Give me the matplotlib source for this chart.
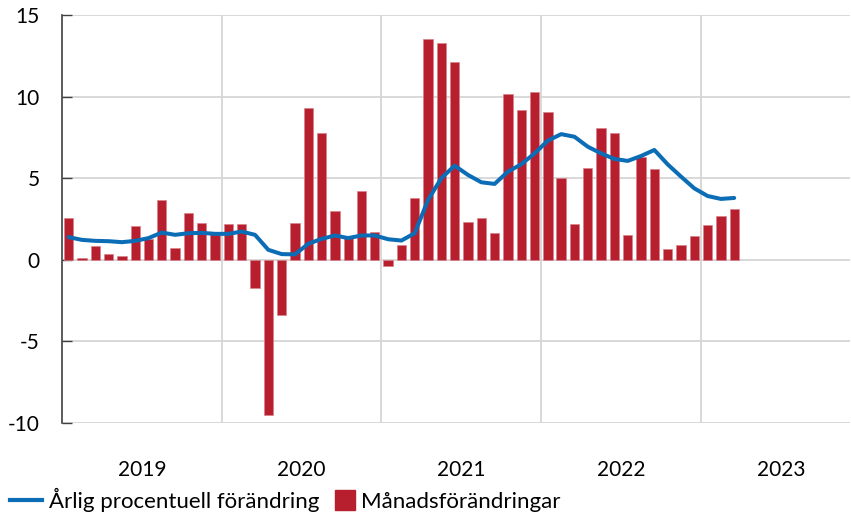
import matplotlib
matplotlib.use("Agg")
import matplotlib.pyplot as plt
import numpy as np
from matplotlib.lines import Line2D
from matplotlib.patches import Patch, Rectangle
from matplotlib.legend_handler import HandlerPatch

plt.rcParams['font.family'] = ['Lato', 'DejaVu Sans']

years = ["2019", "2020", "2021", "2022", "2023"]

# Monthly change (bars), Jan 2019 - Mar 2023
monthly = [2.55, 0.10, 0.84, 0.37, 0.22, 2.08, 1.28, 3.65, 0.75, 2.87, 2.24, 1.71,
           2.22, 2.22, -1.73, -9.50, -3.40, 2.24, 9.28, 7.75, 2.96, 1.35, 4.22, 1.71,
           -0.35, 0.92, 3.79, 13.56, 13.31, 12.09, 2.32, 2.57, 1.63, 10.15, 9.17, 10.27,
           9.05, 5.04, 2.18, 5.63, 8.05, 7.79, 1.51, 6.30, 5.59, 0.67, 0.88, 1.43,
           2.12, 2.69, 3.10]

# Annual percentage change (line)
annual = [1.39, 1.22, 1.16, 1.14, 1.08, 1.16, 1.33, 1.67, 1.53, 1.63, 1.65, 1.59,
          1.59, 1.73, 1.53, 0.61, 0.35, 0.33, 0.98, 1.28, 1.49, 1.33, 1.49, 1.49,
          1.26, 1.18, 1.63, 3.67, 5.00, 5.77, 5.20, 4.75, 4.65, 5.40, 5.85, 6.52,
          7.30, 7.70, 7.54, 6.93, 6.52, 6.18, 6.06, 6.36, 6.73, 5.85, 5.10, 4.38,
          3.91, 3.73, 3.79]

legend_labels = ["Årlig procentuell förändring", "Månadsförändringar"]

bar_color = "#B81F2E"
line_color = "#0A6DB6"
grid_color = "#D6D6D6"
axis_color = "#404040"

fig = plt.figure(figsize=(8.51, 5.15), dpi=100)
ax = fig.add_axes([62/851, 1-423/515, (850-62)/851, (423-15)/515])

x = np.arange(len(monthly))
ax.bar(x, monthly, width=0.7, color=bar_color, edgecolor="#D9828B", linewidth=0.5, zorder=3)
ax.plot(np.arange(len(annual)), annual, color=line_color, lw=2.9, zorder=4,
        solid_joinstyle='round', solid_capstyle='round')

ax.set_xlim(-0.5, 58.7)
ax.set_ylim(-10, 15)

ax.set_yticks([-10, -5, 0, 5, 10, 15])
ax.set_yticklabels(["-10", "-5", "0", "5", "10", "15"])
ax.yaxis.grid(True, color=grid_color, lw=1.3, zorder=0)
ax.tick_params(axis='y', direction='in', length=7.2, width=1, color=axis_color,
               labelsize=15, pad=16, labelcolor="black")

boundaries = [11.5 + 12*i for i in range(4)]
centers = [5.5 + 12*i for i in range(len(years))]
ax.set_xticks(boundaries)
ax.set_xticklabels([])
ax.set_xticks(centers, minor=True)
ax.set_xticklabels(years, minor=True)
ax.xaxis.grid(True, which='major', color=grid_color, lw=1.3, zorder=0)
ax.tick_params(axis='x', which='both', length=0, labelsize=15, pad=27)

for s in ['top', 'right', 'bottom']:
    ax.spines[s].set_visible(False)
ax.spines['left'].set_color(axis_color)
ax.spines['left'].set_linewidth(1.2)
ax.spines['left'].set_zorder(5)


def square_patch(legend, orig_handle, xdescent, ydescent, width, height, fontsize):
    s = 14.4
    return Rectangle((-xdescent + width - s, -ydescent + height/2 - s/2), s, s)


handles = [Line2D([0], [0], color=line_color, lw=3.0),
           Patch(facecolor=bar_color, edgecolor=bar_color)]
fig.legend(handles, legend_labels, loc='center left', bbox_to_anchor=(10/851, 1-500/515),
           ncol=2, frameon=False, fontsize=16, handlelength=1.45,
           handletextpad=0.3, columnspacing=0.15, borderaxespad=0, borderpad=0,
           handler_map={Patch: HandlerPatch(patch_func=square_patch)})

fig.savefig("out.png", dpi=100)
